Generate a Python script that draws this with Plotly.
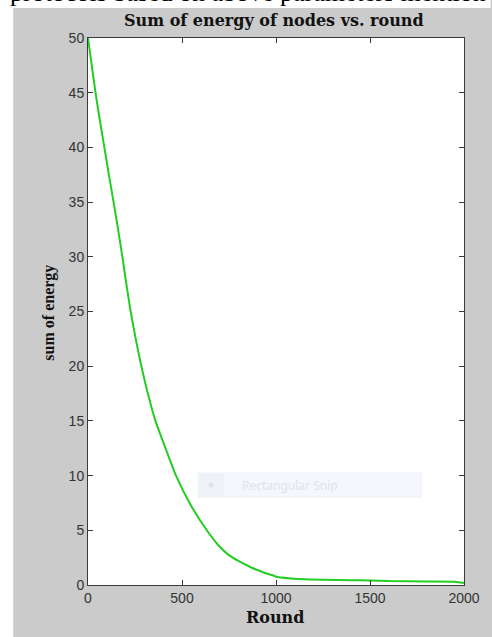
import plotly.graph_objects as go

# ---- data ----
rounds = [0, 20, 40, 60, 87, 110, 136, 160, 183, 205, 227, 255, 284, 320, 359,
          410, 468, 550, 632, 690, 744, 800, 869, 904, 950, 989, 1000, 1078,
          1150, 1253, 1400, 1500, 1600, 1800, 1950, 2000]
energy = [50, 47.5, 45, 42.8, 40, 37.6, 35, 32.5, 30, 27.4, 25, 22.4, 20, 17.4, 15,
          12.6, 10, 7.2, 5, 3.7, 2.8, 2.2, 1.6, 1.35, 1.05, 0.85, 0.75, 0.6,
          0.52, 0.48, 0.44, 0.42, 0.36, 0.33, 0.3, 0.18]

x_ticks = [0, 500, 1000, 1500, 2000]
y_ticks = [0, 5, 10, 15, 20, 25, 30, 35, 40, 45, 50]

title_text = "Sum of energy of nodes vs. round"
x_title = "Round"
y_title = "sum of energy"
header_text = "protocols based on above parameters mention in"
snip_text = "Rectangular Snip"

W, H = 492, 637
L, R, T, B = 88, 22, 38, 52
pw, ph = W - L - R, H - T - B


def px(x):
    return (x - L) / pw


def py(y):
    return (H - B - y) / ph


GRAY = "rgb(203,203,203)"
AX = "#3a3a3a"

fig = go.Figure()
fig.add_trace(go.Scatter(
    x=rounds, y=energy, mode="lines",
    line=dict(color="rgb(35,205,35)", width=2, shape="spline", smoothing=0.6),
    showlegend=False, hoverinfo="skip"))

axis_common = dict(
    showgrid=False, zeroline=False, showline=True, linecolor=AX, linewidth=1,
    mirror="ticks", ticks="inside", ticklen=5, tickcolor=AX, tickwidth=1,
    tickfont=dict(family="Liberation Sans, Arial, sans-serif", size=14, color="#333333"),
)

fig.update_layout(
    width=W, height=H,
    margin=dict(l=L, r=R, t=T, b=B, pad=0),
    paper_bgcolor=GRAY, plot_bgcolor="white",
    xaxis=dict(range=[0, 2000], tickvals=x_ticks, **axis_common),
    yaxis=dict(range=[0, 50], tickvals=y_ticks, **axis_common),
    shapes=[
        # white margins of the screenshot (left strip and top strip)
        dict(type="rect", xref="paper", yref="paper", x0=px(-5), x1=px(12),
             y0=py(H + 5), y1=py(-5), fillcolor="white", line=dict(width=0), layer="below"),
        dict(type="rect", xref="paper", yref="paper", x0=px(-5), x1=px(W + 5),
             y0=py(8), y1=py(-5), fillcolor="white", line=dict(width=0), layer="below"),
        # faint snipping-tool overlay
        dict(type="rect", xref="paper", yref="paper", x0=px(200), x1=px(427),
             y0=py(497), y1=py(473), fillcolor="rgb(244,247,251)",
             line=dict(color="rgb(236,240,246)", width=1), layer="below"),
        dict(type="rect", xref="paper", yref="paper", x0=px(201), x1=px(226),
             y0=py(496), y1=py(474), fillcolor="rgb(238,242,248)",
             line=dict(width=0), layer="below"),
        dict(type="rect", xref="paper", yref="paper", x0=px(211), x1=px(215),
             y0=py(487), y1=py(483), fillcolor="rgb(220,226,234)",
             line=dict(width=0), layer="below"),
    ],
    annotations=[
        dict(text="<b>" + title_text + "</b>", xref="paper", yref="paper", x=px(277), y=py(21),
             xanchor="center", yanchor="middle", showarrow=False,
             font=dict(family="DejaVu Serif", size=16, color="#111111")),
        dict(text="<b>" + x_title + "</b>", xref="paper", yref="paper", x=px(278), y=py(617),
             xanchor="center", yanchor="middle", showarrow=False,
             font=dict(family="DejaVu Serif", size=16, color="#111111")),
        dict(text="<b>" + y_title + "</b>", xref="paper", yref="paper", x=px(48), y=py(313),
             xanchor="center", yanchor="middle", showarrow=False, textangle=-90,
             font=dict(family="Liberation Serif", size=16, color="#111111")),
        dict(text=header_text, xref="paper", yref="paper", x=px(522), y=py(-7.5),
             xanchor="right", yanchor="middle", showarrow=False,
             font=dict(family="Liberation Serif", size=26, color="black")),
        dict(text=snip_text, xref="paper", yref="paper", x=px(242), y=py(485),
             xanchor="left", yanchor="middle", showarrow=False,
             font=dict(family="Noto Sans", size=12, color="rgb(222,228,236)")),
    ],
)

fig.write_html("out.html", config={"displayModeBar": False},
               post_script="document.body.style.margin='0';document.body.style.overflow='hidden';")
